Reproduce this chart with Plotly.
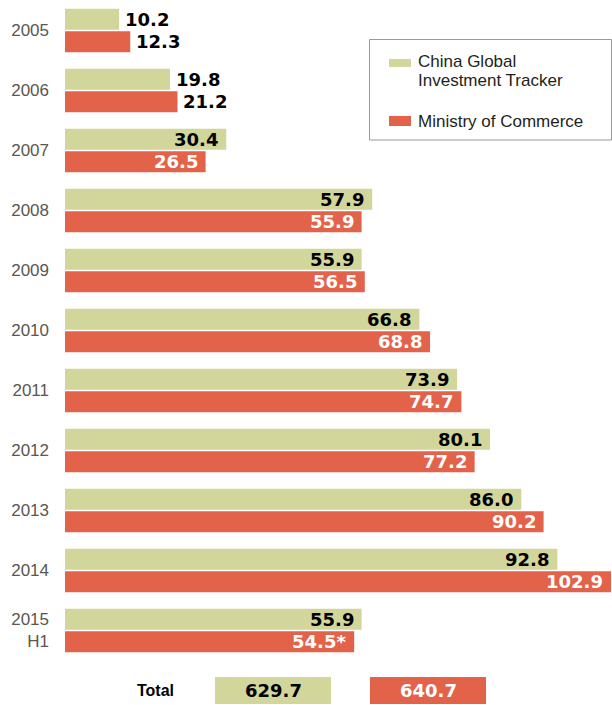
import plotly.graph_objects as go

# Chinese outbound direct investment, USD billions, by source
years = ["2005", "2006", "2007", "2008", "2009", "2010",
         "2011", "2012", "2013", "2014", "2015<br>H1"]
cgit = [10.2, 19.8, 30.4, 57.9, 55.9, 66.8, 73.9, 80.1, 86.0, 92.8, 55.9]
mofcom = [12.3, 21.2, 26.5, 55.9, 56.5, 68.8, 74.7, 77.2, 90.2, 102.9, 54.5]
mofcom_notes = ["", "", "", "", "", "", "", "", "", "", "*"]
series_names = [["China Global", "Investment Tracker"], ["Ministry of Commerce"]]
total_label = "Total"
totals = [629.7, 640.7]

GREEN = "#d3d69b"
RED = "#e2634a"
W, H = 612, 705
LEFT = 65
PX_PER_UNIT = 5.306
ROW_PX = 60.0

label_font = dict(family="DejaVu Sans", size=18, weight="bold")


def paper_x(px):
    return (px - LEFT) / (W - LEFT)


def paper_y(py):
    return 1 - py / H


idx = list(range(len(years)))
total_row = len(years)

fig = go.Figure()
fig.add_trace(go.Bar(y=idx, x=cgit, orientation="h", name=" ".join(series_names[0]),
                     marker=dict(color=GREEN, line=dict(width=0)),
                     showlegend=False, hoverinfo="x"))
fig.add_trace(go.Bar(y=idx, x=mofcom, orientation="h", name=" ".join(series_names[1]),
                     marker=dict(color=RED, line=dict(width=0)),
                     showlegend=False, hoverinfo="x"))

annotations = []
half = 11.25  # vertical offset of each bar in a pair, px
for i in idx:
    for vals, notes, shift, inside_color in (
        (cgit, None, half, "black"),
        (mofcom, mofcom_notes, -half, "white"),
    ):
        v = vals[i]
        txt = f"{v:.1f}" + (notes[i] if notes else "")
        if v < 25:
            anchor, xs, col = "left", 4, "black"
        else:
            anchor, xs, col = "right", -6, inside_color
        annotations.append(dict(x=v, y=i, xref="x", yref="y", text=txt,
                                showarrow=False, xanchor=anchor, yanchor="middle",
                                xshift=xs, yshift=shift,
                                font=dict(color=col, **label_font)))

# Totals row
annotations.append(dict(x=paper_x(155), y=total_row, xref="paper", yref="y",
                        text=total_label, showarrow=False, xanchor="center",
                        yanchor="middle",
                        font=dict(family="Liberation Sans", size=16,
                                  weight="bold", color="black")))
shapes = []
box_spans = [(215, 331), (370, 486)]
for (x0, x1), val, col, tcol in zip(box_spans, totals, [GREEN, RED], ["black", "white"]):
    shapes.append(dict(type="rect", xref="paper", yref="y",
                       x0=paper_x(x0), x1=paper_x(x1),
                       y0=total_row - 0.225, y1=total_row + 0.225,
                       fillcolor=col, line=dict(width=0), layer="below"))
    annotations.append(dict(x=paper_x((x0 + x1) / 2), y=total_row, xref="paper",
                            yref="y", text=f"{val:.1f}", showarrow=False,
                            xanchor="center", yanchor="middle",
                            font=dict(color=tcol, **label_font)))

# Legend panel
shapes.append(dict(type="rect", xref="paper", yref="paper",
                   x0=paper_x(369.5), x1=paper_x(611.5),
                   y0=paper_y(140), y1=paper_y(39.5),
                   fillcolor="white", line=dict(color="#9a9a9a", width=1)))
legend_rows = [(GREEN, 59, 67, 61.5), (RED, 116, 126, 121)]
LINE_PX = 19
for (col, sy0, sy1, ty), lines in zip(legend_rows, series_names):
    shapes.append(dict(type="rect", xref="paper", yref="paper",
                       x0=paper_x(389), x1=paper_x(411),
                       y0=paper_y(sy1), y1=paper_y(sy0),
                       fillcolor=col, line=dict(width=0)))
    for j, line in enumerate(lines):
        annotations.append(dict(x=paper_x(417), y=paper_y(ty + j * LINE_PX),
                                xref="paper", yref="paper", text=line,
                                showarrow=False, xanchor="left", yanchor="middle",
                                align="left", borderpad=0,
                                font=dict(family="Liberation Sans", size=17,
                                          color="#231f20")))

top_v = -0.5 / ROW_PX - 0.5
bottom_v = (H - 0.5) / ROW_PX - 0.5

fig.update_layout(
    width=W, height=H,
    margin=dict(l=LEFT, r=0, t=0, b=0),
    paper_bgcolor="white", plot_bgcolor="white",
    barmode="group", bargap=0.25, bargroupgap=0.06,
    xaxis=dict(range=[0, (W - LEFT) / PX_PER_UNIT], visible=False,
               fixedrange=True),
    yaxis=dict(range=[bottom_v, top_v], tickmode="array", tickvals=idx,
               ticktext=years, ticks="", showgrid=False, zeroline=False,
               showline=False, ticklabelstandoff=15,
               tickfont=dict(family="Liberation Sans", size=17, color="#5b5651"),
               fixedrange=True),
    annotations=annotations,
    shapes=shapes,
)

fig.write_html("out.html")
